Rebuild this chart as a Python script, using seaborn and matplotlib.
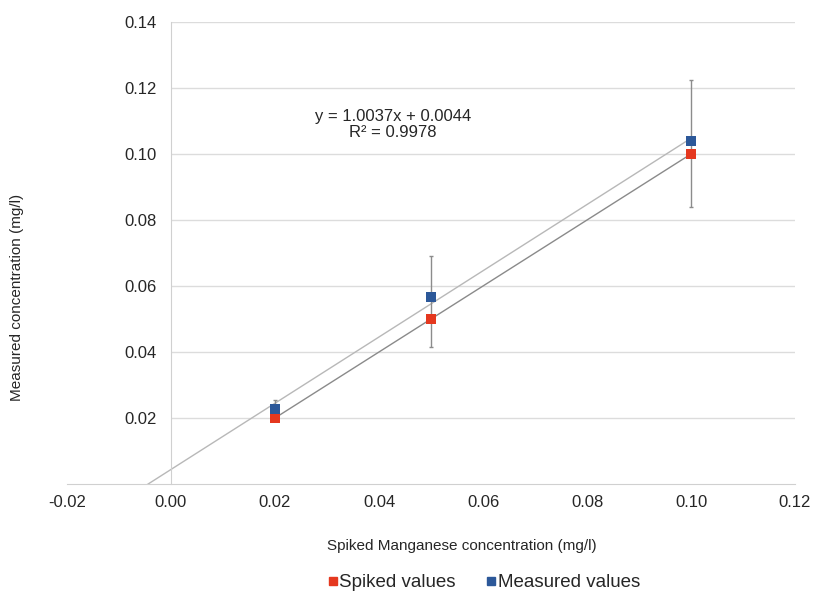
import numpy as np
import pandas as pd
import matplotlib
matplotlib.use("Agg")
import matplotlib.pyplot as plt
import seaborn as sns

# data
spiked_x = [0.02, 0.05, 0.10]
spiked_y = [0.02, 0.05, 0.10]
measured_y = [0.0228, 0.0566, 0.1039]
err_low = [0.0228, 0.0415, 0.0839]   # lower end of error bars
err_high = [0.0256, 0.0690, 0.1225]  # upper end of error bars
slope = 1.0037
intercept = 0.0044
r2 = 0.9978

x_ticks = [-0.02, 0.00, 0.02, 0.04, 0.06, 0.08, 0.10, 0.12]
y_ticks = [0.02, 0.04, 0.06, 0.08, 0.10, 0.12, 0.14]

red = "#e5381f"
blue = "#2c5899"

sns.set_style("white")
plt.rcParams["font.family"] = ["Liberation Sans", "DejaVu Sans"]

df = pd.DataFrame({
    "x": spiked_x + spiked_x,
    "y": spiked_y + measured_y,
    "series": ["Spiked values"] * 3 + ["Measured values"] * 3,
})

fig = plt.figure(figsize=(8.14, 5.95), dpi=100)
ax = fig.add_axes([0.0823, 0.1866, 0.8944, 0.7764])

# gridlines from the y axis rightwards
ax.hlines(y_ticks, 0, 0.12, color="#dcdcdc", lw=1, zorder=0)

# trendline of measured values
tx = np.array([-0.02, spiked_x[-1]])
ax.plot(tx, slope * tx + intercept, color="#b8b8b8", lw=1, zorder=1)
# spiked line
sns.lineplot(x=spiked_x, y=spiked_y, color="#8a8a8a", lw=1, ax=ax, zorder=1)

# error bars on measured values
m = np.array(measured_y)
ax.errorbar(spiked_x, m, yerr=[m - np.array(err_low), np.array(err_high) - m],
            fmt="none", ecolor="#8c8c8c", elinewidth=1, capsize=1.5, zorder=2)

sns.scatterplot(data=df, x="x", y="y", hue="series", marker="s", s=55,
                palette={"Spiked values": red, "Measured values": blue},
                edgecolor="none", ax=ax, zorder=3, legend=False)

ax.set_xlim(-0.02, 0.12)
ax.set_ylim(0, 0.14)
ax.set_xticks(x_ticks)
ax.set_xticklabels([f"{v:.2f}" for v in x_ticks])
ax.set_yticks(y_ticks)
ax.set_yticklabels([f"{v:.2f}" for v in y_ticks])

for s in ["top", "right"]:
    ax.spines[s].set_visible(False)
ax.spines["left"].set_position(("data", 0))
ax.spines["left"].set_color("#d0d0d0")
ax.spines["bottom"].set_color("#d0d0d0")
ax.tick_params(axis="y", length=4, color="#d0d0d0", labelsize=12, pad=6, direction="out")
ax.tick_params(axis="x", length=3, color="#d0d0d0", labelsize=12, pad=8, direction="in")

ax.set_xlabel("")
ax.set_ylabel("")
fig.text(0.021, 0.50, "Measured concentration (mg/l)", rotation=90,
         ha="center", va="center", fontsize=11)
fig.text(0.567, 0.082, "Spiked Manganese concentration (mg/l)",
         ha="center", va="center", fontsize=11)

# trendline equation
ax.text(0.0427, 0.1100, f"y = {slope}x + {intercept}",
        ha="center", va="baseline", fontsize=12)
ax.text(0.0427, 0.1052, f"R² = {r2}",
        ha="center", va="baseline", fontsize=12)

handles = [plt.Line2D([], [], marker="s", ls="", color=red, markersize=5.5),
           plt.Line2D([], [], marker="s", ls="", color=blue, markersize=5.5)]
fig.legend(handles, ["Spiked values", "Measured values"], loc="center",
           bbox_to_anchor=(0.594, 0.021), ncol=2, frameon=False,
           fontsize=13.5, handletextpad=0.05, columnspacing=1.6, handlelength=0.6)

fig.savefig("out.png", dpi=100)
